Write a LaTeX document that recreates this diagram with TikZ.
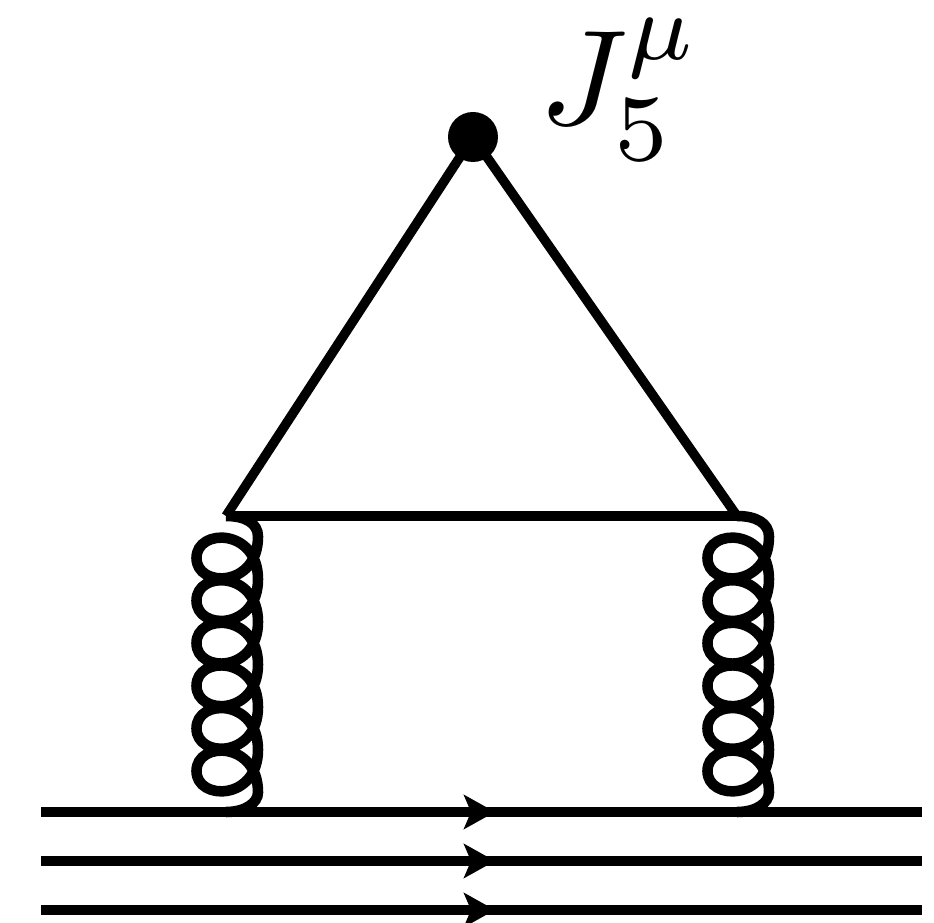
\documentclass[tikz,border=0pt]{standalone}
\usetikzlibrary{arrows.meta}
\tikzset{
  line/.style={line width=2.7pt},
  gluon/.style={line width=3pt},
  quark/.style={line width=2.7pt, -{Stealth[length=0.31cm, width=0.34cm, inset=0.07cm]}}
}
\begin{document}
\begin{tikzpicture}
\useasboundingbox (0,0) rectangle (9.34,9.23);

\coordinate (T) at (4.73,7.86);
\coordinate (A) at (2.26,4.07);
\coordinate (B) at (7.37,4.07);
\coordinate (C) at (2.26,1.11);
\coordinate (D) at (7.37,1.11);

\draw[line] (T) -- (A);
\draw[line] (T) -- (B);
\draw[line] (A) -- (B);
\fill (T) circle (0.25);

\draw[gluon] (A) .. controls (2.45,4.07) and (2.58,4.0) .. (2.58,3.863)
  .. controls (2.58,3.35) and (1.965,3.35) .. (1.965,3.65)
  .. controls (1.965,3.95) and (2.58,3.95) .. (2.58,3.437)
  .. controls (2.58,2.924) and (1.965,2.924) .. (1.965,3.224)
  .. controls (1.965,3.524) and (2.58,3.524) .. (2.58,3.011)
  .. controls (2.58,2.498) and (1.965,2.498) .. (1.965,2.798)
  .. controls (1.965,3.098) and (2.58,3.098) .. (2.58,2.585)
  .. controls (2.58,2.072) and (1.965,2.072) .. (1.965,2.372)
  .. controls (1.965,2.672) and (2.58,2.672) .. (2.58,2.159)
  .. controls (2.58,1.646) and (1.965,1.646) .. (1.965,1.946)
  .. controls (1.965,2.246) and (2.58,2.246) .. (2.58,1.733)
  .. controls (2.58,1.22) and (1.965,1.22) .. (1.965,1.52)
  .. controls (1.965,1.82) and (2.58,1.82) .. (2.58,1.307)
  .. controls (2.58,1.2) and (2.45,1.11) .. (C);

\draw[gluon] (B) .. controls (7.56,4.07) and (7.69,4.0) .. (7.69,3.863)
  .. controls (7.69,3.35) and (7.075,3.35) .. (7.075,3.65)
  .. controls (7.075,3.95) and (7.69,3.95) .. (7.69,3.437)
  .. controls (7.69,2.924) and (7.075,2.924) .. (7.075,3.224)
  .. controls (7.075,3.524) and (7.69,3.524) .. (7.69,3.011)
  .. controls (7.69,2.498) and (7.075,2.498) .. (7.075,2.798)
  .. controls (7.075,3.098) and (7.69,3.098) .. (7.69,2.585)
  .. controls (7.69,2.072) and (7.075,2.072) .. (7.075,2.372)
  .. controls (7.075,2.672) and (7.69,2.672) .. (7.69,2.159)
  .. controls (7.69,1.646) and (7.075,1.646) .. (7.075,1.946)
  .. controls (7.075,2.246) and (7.69,2.246) .. (7.69,1.733)
  .. controls (7.69,1.22) and (7.075,1.22) .. (7.075,1.52)
  .. controls (7.075,1.82) and (7.69,1.82) .. (7.69,1.307)
  .. controls (7.69,1.2) and (7.56,1.11) .. (D);

\coordinate (E1) at (0.41,1.11);
\coordinate (M1) at (4.95,1.11);
\coordinate (F1) at (9.22,1.11);
\coordinate (E2) at (0.41,0.62);
\coordinate (M2) at (4.95,0.62);
\coordinate (F2) at (9.22,0.62);
\coordinate (E3) at (0.41,0.13);
\coordinate (M3) at (4.95,0.13);
\coordinate (F3) at (9.22,0.13);

\draw[line] (E1) -- (F1);
\draw[line] (E2) -- (F2);
\draw[line] (E3) -- (F3);
\draw[quark] (E1) -- (M1);
\draw[quark] (E2) -- (M2);
\draw[quark] (E3) -- (M3);

\node[scale=3.85, inner sep=0pt] (J) at (6.195,8.33) {$J^\mu_5$};
\end{tikzpicture}
\end{document}
